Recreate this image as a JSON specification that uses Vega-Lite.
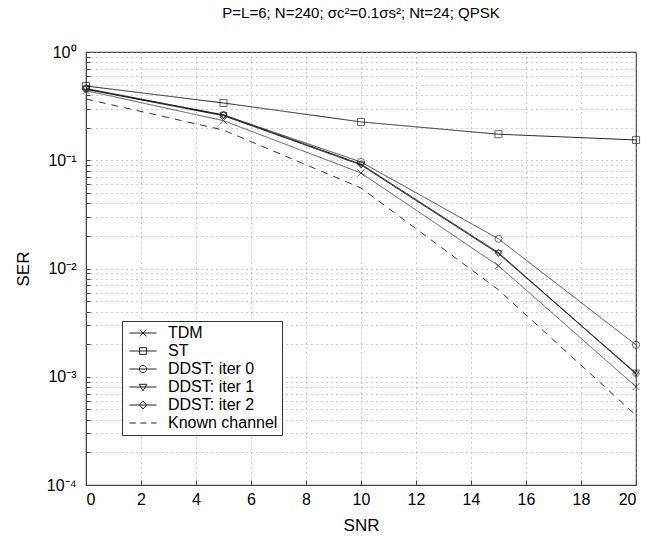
{
  "$schema": "https://vega.github.io/schema/vega-lite/v6.json",
  "autosize": "none",
  "width": 550,
  "height": 433,
  "padding": {"left": 86, "top": 52, "right": 22, "bottom": 53},
  "background": "white",
  "title": {
    "text": "P=L=6; N=240; σc²=0.1σs²; Nt=24;  QPSK",
    "font": "Liberation Sans",
    "fontSize": 15,
    "fontWeight": "normal",
    "anchor": "middle",
    "offset": 23
  },
  "config": {
    "view": {"stroke": "#444", "strokeWidth": 1.2},
    "axis": {
      "labelFont": "Liberation Sans",
      "titleFont": "Liberation Sans",
      "labelFontSize": 16,
      "titleFontSize": 17,
      "titleFontWeight": "normal",
      "labelColor": "black",
      "titleColor": "black",
      "domainColor": "#444",
      "tickColor": "#444",
      "gridColor": "#999",
      "gridDash": [1, 4],
      "gridOpacity": 1
    }
  },
  "data": {
    "values": [
      {"series": "TDM", "snr": 0, "ser": 0.44},
      {"series": "TDM", "snr": 5, "ser": 0.232},
      {"series": "TDM", "snr": 10, "ser": 0.0763},
      {"series": "TDM", "snr": 15, "ser": 0.0106},
      {"series": "TDM", "snr": 20, "ser": 0.00081},
      {"series": "ST", "snr": 0, "ser": 0.485},
      {"series": "ST", "snr": 5, "ser": 0.338},
      {"series": "ST", "snr": 10, "ser": 0.226},
      {"series": "ST", "snr": 15, "ser": 0.174},
      {"series": "ST", "snr": 20, "ser": 0.154},
      {"series": "DDST: iter 0", "snr": 0, "ser": 0.46},
      {"series": "DDST: iter 0", "snr": 5, "ser": 0.262},
      {"series": "DDST: iter 0", "snr": 10, "ser": 0.0964},
      {"series": "DDST: iter 0", "snr": 15, "ser": 0.0188},
      {"series": "DDST: iter 0", "snr": 20, "ser": 0.00197},
      {"series": "DDST: iter 1", "snr": 0, "ser": 0.452},
      {"series": "DDST: iter 1", "snr": 5, "ser": 0.258},
      {"series": "DDST: iter 1", "snr": 10, "ser": 0.0905},
      {"series": "DDST: iter 1", "snr": 15, "ser": 0.0137},
      {"series": "DDST: iter 1", "snr": 20, "ser": 0.00108},
      {"series": "DDST: iter 2", "snr": 0, "ser": 0.456},
      {"series": "DDST: iter 2", "snr": 5, "ser": 0.262},
      {"series": "DDST: iter 2", "snr": 10, "ser": 0.092},
      {"series": "DDST: iter 2", "snr": 15, "ser": 0.014},
      {"series": "DDST: iter 2", "snr": 20, "ser": 0.00106},
      {"series": "Known channel", "snr": 0, "ser": 0.368},
      {"series": "Known channel", "snr": 5, "ser": 0.19},
      {"series": "Known channel", "snr": 10, "ser": 0.0555},
      {"series": "Known channel", "snr": 15, "ser": 0.00635},
      {"series": "Known channel", "snr": 20, "ser": 0.00044}
    ]
  },
  "encoding": {
    "x": {
      "field": "snr",
      "type": "quantitative",
      "title": "SNR",
      "scale": {"domain": [0, 20], "nice": false},
      "axis": {
        "values": [0, 2, 4, 6, 8, 10, 12, 14, 16, 18, 20],
        "tickSize": -5,
        "labelPadding": 11,
        "titlePadding": 10
      }
    },
    "y": {
      "field": "ser",
      "type": "quantitative",
      "title": "SER",
      "scale": {"type": "log", "domain": [0.0001, 1], "nice": false},
      "axis": {
        "values": [0.0001, 0.0002, 0.0003, 0.0004, 0.0005, 0.0006, 0.0007, 0.0008, 0.0009,
                   0.001, 0.002, 0.003, 0.004, 0.005, 0.006, 0.007, 0.008, 0.009,
                   0.01, 0.02, 0.03, 0.04, 0.05, 0.06, 0.07, 0.08, 0.09,
                   0.1, 0.2, 0.3, 0.4, 0.5, 0.6, 0.7, 0.8, 0.9, 1],
        "labelExpr": "datum.value == 1 ? '10⁰' : datum.value == 0.1 ? '10⁻¹' : datum.value == 0.01 ? '10⁻²' : datum.value == 0.001 ? '10⁻³' : datum.value == 0.0001 ? '10⁻⁴' : ''",
        "tickSize": -4,
        "labelPadding": 14,
        "titlePadding": 14
      }
    }
  },
  "resolve": {"scale": {"shape": "independent"}},
  "layer": [
    {
      "mark": {"type": "line", "strokeWidth": 1},
      "encoding": {
        "color": {
          "field": "series",
          "type": "nominal",
          "scale": {
            "domain": ["TDM", "ST", "DDST: iter 0", "DDST: iter 1", "DDST: iter 2", "Known channel"],
            "range": ["#555555", "#222222", "#444444", "#111111", "#111111", "#333333"]
          },
          "legend": null
        },
        "strokeDash": {
          "field": "series",
          "type": "nominal",
          "scale": {
            "domain": ["TDM", "ST", "DDST: iter 0", "DDST: iter 1", "DDST: iter 2", "Known channel"],
            "range": [[1, 0], [1, 0], [1, 0], [1, 0], [1, 0], [7, 6]]
          },
          "legend": null
        }
      }
    },
    {
      "transform": [{"filter": "datum.series != 'Known channel'"}],
      "mark": {"type": "point", "filled": false, "size": 50, "strokeWidth": 1, "color": "#222"},
      "encoding": {
        "shape": {
          "field": "series",
          "type": "nominal",
          "scale": {
            "domain": ["TDM", "ST", "DDST: iter 0", "DDST: iter 1", "DDST: iter 2", "Known channel"],
            "range": ["M-1,-1L1,1M-1,1L1,-1", "square", "circle", "triangle-down", "diamond", "circle"]
          },
          "legend": null
        }
      }
    },
    {
      "transform": [{"filter": "datum.snr < 0"}],
      "mark": {"type": "point", "filled": false, "size": 81, "strokeWidth": 1, "color": "#222"},
      "encoding": {
        "shape": {
          "field": "series",
          "type": "nominal",
          "scale": {
            "domain": ["TDM", "ST", "DDST: iter 0", "DDST: iter 1", "DDST: iter 2", "Known channel"],
            "range": [
              "M-1,0L5,0M1.25,-0.75L2.75,0.75M1.25,0.75L2.75,-0.75",
              "M-1,0L5,0M1.25,-0.75L2.75,-0.75L2.75,0.75L1.25,0.75Z",
              "M-1,0L5,0M2.8,0A0.8,0.8 0 1,1 1.2,0A0.8,0.8 0 1,1 2.8,0",
              "M-1,0L5,0M1.15,-0.6L2.85,-0.6L2,0.85Z",
              "M-1,0L5,0M2,-0.9L2.8,0L2,0.9L1.2,0Z",
              "M-1,0L0.4,0M1.4,0L2.8,0M3.8,0L5,0"
            ]
          },
          "legend": {
            "title": null,
            "orient": "none",
            "legendX": 36,
            "legendY": 269,
            "strokeColor": "#333",
            "fillColor": "white",
            "padding": 4,
            "labelFont": "Liberation Sans",
            "labelFontSize": 16,
            "labelColor": "black",
            "labelOffset": 26,
            "symbolSize": 81,
            "symbolStrokeWidth": 1,
            "symbolStrokeColor": "#222",
            "symbolFillColor": "transparent",
            "symbolOpacity": 1,
            "rowPadding": 2
          }
        }
      }
    }
  ]
}
